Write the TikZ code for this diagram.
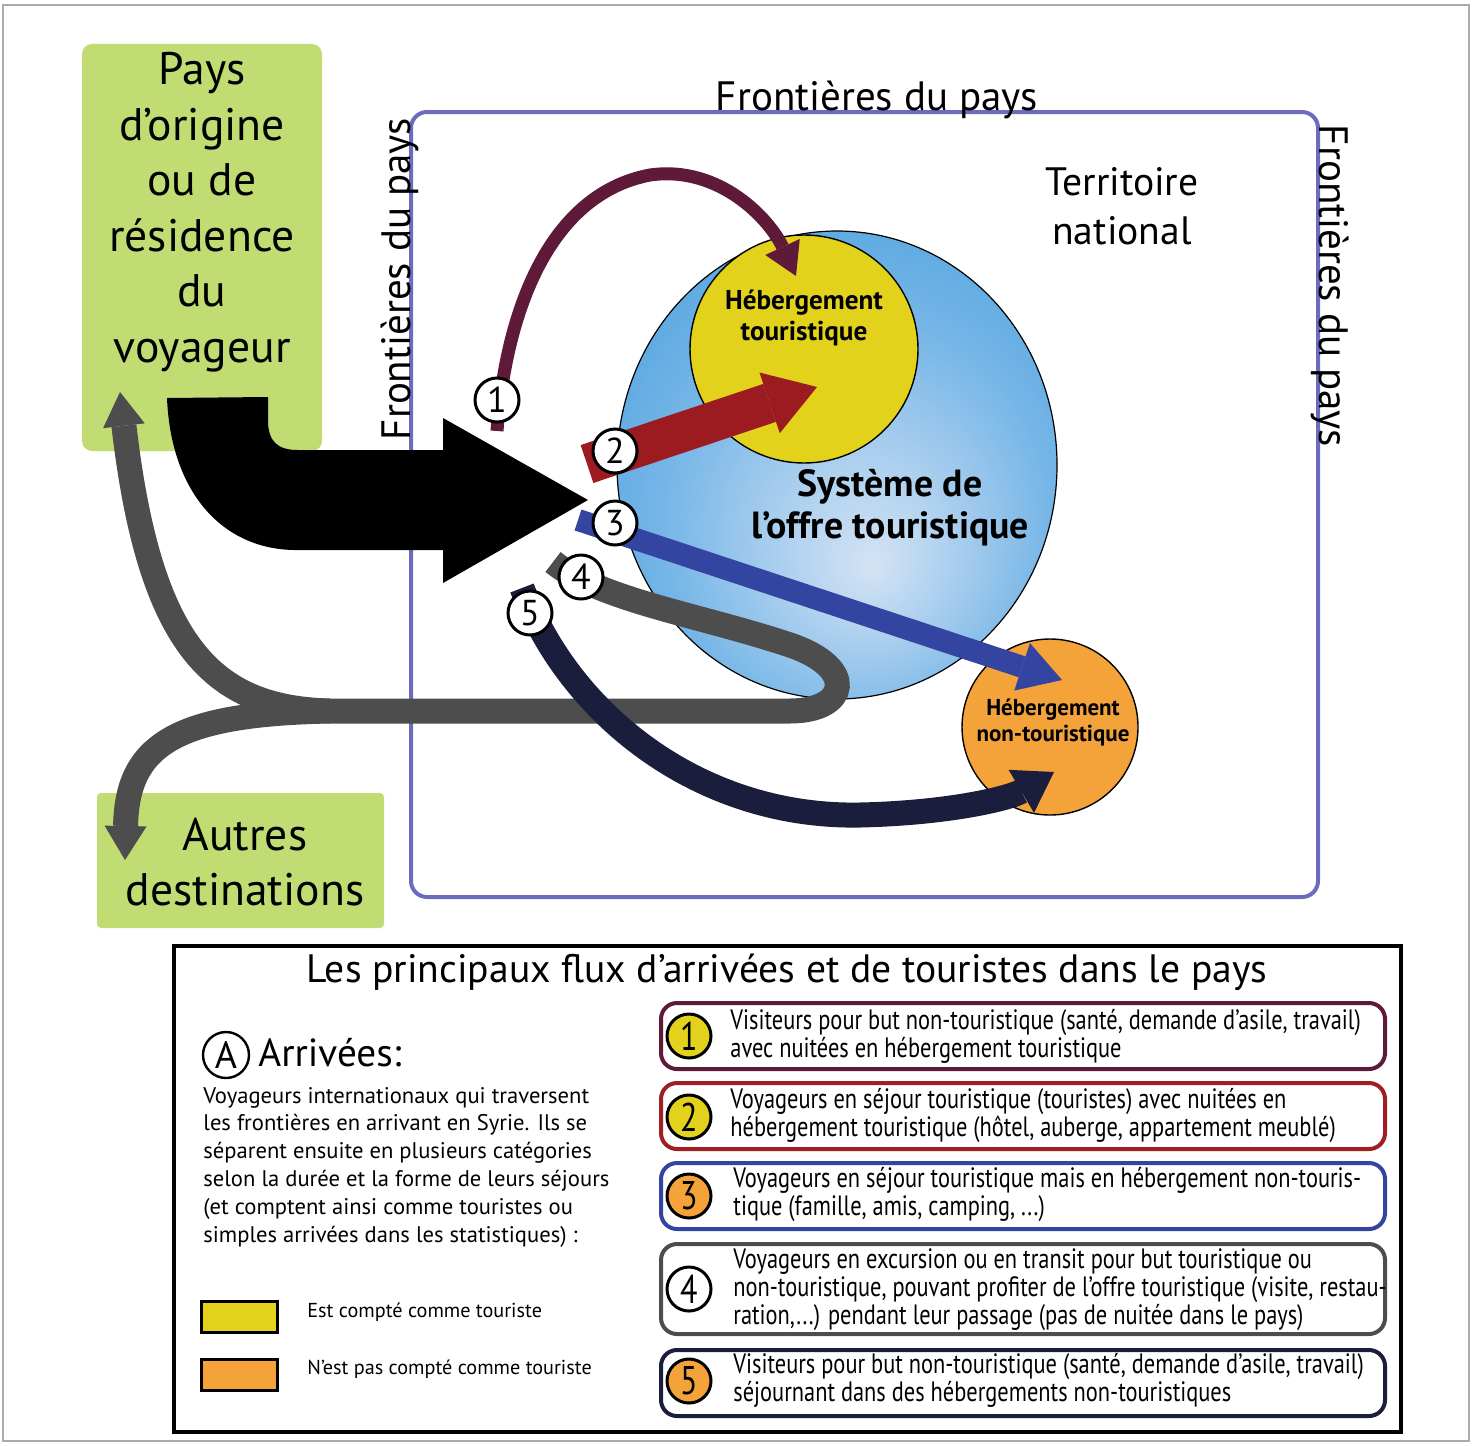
\documentclass[tikz,border=0pt]{standalone}
\usepackage{fontspec}
\setmainfont{PT Sans}
\newfontfamily\condf[FakeStretch=0.8]{PT Sans}
\usetikzlibrary{arrows.meta,shapes.geometric}
\definecolor{greenbx}{RGB}{193,220,114}
\definecolor{bordercol}{RGB}{108,108,190}
\definecolor{maroonf}{RGB}{94,26,56}
\definecolor{redf}{RGB}{156,27,32}
\definecolor{redbox}{RGB}{160,30,38}
\definecolor{bluef}{RGB}{51,69,161}
\definecolor{grayf}{RGB}{78,77,78}
\definecolor{navyf}{RGB}{27,29,61}
\definecolor{yel}{RGB}{227,210,27}
\definecolor{ora}{RGB}{243,163,58}
\definecolor{framegray}{RGB}{170,170,170}
\definecolor{sysA}{RGB}{212,227,244}
\definecolor{sysB}{RGB}{175,209,239}
\definecolor{sysC}{RGB}{118,182,231}
\definecolor{sysD}{RGB}{82,164,223}
\pgfdeclareradialshading{sysshade}{\pgfpoint{4bp}{-11bp}}{color(0bp)=(sysA); color(9bp)=(sysB); color(22bp)=(sysC); color(34bp)=(sysD); color(50bp)=(sysD)}
\tikzset{
  greenbox/.style={fill=greenbx, inner sep=0pt},
  bigtext/.style={font=\fontsize{22.8}{27.75}\selectfont, align=center, inner sep=0pt},
  fronttext/.style={font=\fontsize{20.5}{24}\selectfont, inner sep=0pt},
  badge/.style={circle, draw=black, line width=1.5pt, fill=white, minimum size=22pt, inner sep=0pt, font=\fontsize{18}{18}\selectfont},
  lbadge/.style={badge, font=\condf\fontsize{20}{20}\selectfont},
  itembox/.style={draw, line width=2pt, rounded corners=8pt, minimum width=362pt, inner sep=0pt},
  itemtext/.style={font=\condf\fontsize{14}{14}\selectfont, align=left, anchor=west, inner sep=0pt},
  flowgray/.style={draw=grayf, line width=12.5pt},
  tipgray/.style={-{Triangle[width=21pt,length=17pt,line width=0pt]}},
}
\begin{document}
\begin{tikzpicture}[x=0.5pt,y=-0.5pt]
\useasboundingbox (0,0) rectangle (1475,1445);
\draw[framegray, line width=0.6pt] (3,5) rectangle (1469,1441);

% green boxes
\node[greenbox, minimum width=120pt, minimum height=203.5pt, rounded corners=5pt] (origin) at (202,247.5) {};
\node[bigtext] (origintext) at (202,212) {Pays\\d’origine\\ou de\\résidence\\du\\voyageur};
\node[greenbox, minimum width=143.5pt, minimum height=67.5pt, rounded corners=2pt] (autres) at (240.5,860.5) {};
\node[bigtext] (autrestext) at (245,862) {Autres\\destinations};

% country border
\node[draw=bordercol, line width=2pt, rounded corners=8pt, minimum width=453.5pt, minimum height=392.5pt, inner sep=0pt] (territoire) at (864.5,504.5) {};

% system of supply
\node[ellipse, draw=black, line width=0.6pt, shading=sysshade, minimum width=220pt, minimum height=234pt, inner sep=0pt] (sys) at (837,465) {};
\node[circle, draw=black, line width=0.7pt, fill=yel, minimum size=114pt, inner sep=0pt] (hebt) at (804,349) {};
\node[circle, draw=black, line width=0.7pt, fill=ora, minimum size=88pt, inner sep=0pt] (hebn) at (1050,727) {};
\node[font=\bfseries\fontsize{13.6}{15.5}\selectfont, align=center, inner sep=0pt] (hebttext) at (804,318) {Hébergement\\touristique};
\node[font=\bfseries\fontsize{11.5}{13}\selectfont, align=center, inner sep=0pt] (hebntext) at (1053,723) {Hébergement\\non-touristique};
\node[font=\bfseries\fontsize{18.9}{21}\selectfont, align=center, inner sep=0pt] (systext) at (890,508) {Système de\\l’offre touristique};

% big black arrow
\coordinate (bigtip) at (588,500);
\fill[black] (167,398) -- (268,397) -- (268,420) .. controls (268,442) and (278,450) .. (298,450) -- (443,450) -- (443,418) -- (bigtip) -- (443,583) -- (443,550) -- (298,550) .. controls (225,551) and (171,495) .. (167,398) -- cycle;

% border labels
\node[fronttext] (ftop) at (877,100) {Frontières du pays};
\node[fronttext, rotate=90] (fleft) at (400,279) {Frontières du pays};
\node[fronttext, rotate=-90] (fright) at (1330,286) {Frontières du pays};
\node[font=\fontsize{19.8}{24.5}\selectfont, align=center, inner sep=0pt] (terr) at (1122,206) {Territoire\\national};

% flow 4 (gray)
\coordinate (g4) at (553,562);
\coordinate (gjunc) at (330,711);
\coordinate (gup) at (120,392);
\coordinate (gdown) at (125,860);
\draw[flowgray, tipgray] (g4) .. controls (600,600) and (700,615) .. (790,645) .. controls (858,668) and (848,711) .. (790,711) -- (gjunc) .. controls (215,708) and (150,650) .. (gup);
\draw[flowgray, tipgray] (gjunc) .. controls (175,714) and (127,745) .. (gdown);

% flow 5 (navy)
\coordinate (f5s) at (522,588);
\coordinate (f5e) at (1054,772);
\draw[navyf, line width=12.5pt, -{Triangle[width=25pt,length=19pt,line width=0pt]}] (f5s) .. controls (570,715) and (700,818) .. (860,815) .. controls (950,813) and (1010,798) .. (f5e);

% flow 1 (maroon)
\coordinate (f1s) at (497,431);
\coordinate (f1e) at (796,276);
\draw[maroonf, line width=6.5pt, -{Triangle[width=19pt,length=16pt,line width=0pt]}] (f1s) .. controls (505,320) and (545,195) .. (650,175) .. controls (720,165) and (770,220) .. (f1e);

% flow 2 (red)
\coordinate (f2s) at (587,464);
\coordinate (f2e) at (817,387);
\draw[redf, line width=20pt, -{Triangle[width=32pt,length=25pt,line width=0pt]}] (f2s) -- (f2e);

% flow 3 (blue)
\coordinate (f3s) at (578,520);
\coordinate (f3e) at (1062,680);
\draw[bluef, line width=11pt, -{Triangle[width=25pt,length=21pt,line width=0pt]}] (f3s) -- (f3e);

% badges
\node[badge] (b1) at (497,400) {1};
\node[badge] (b2) at (615,451) {2};
\node[badge] (b3) at (615,523) {3};
\node[badge] (b4) at (581,577) {4};
\node[badge] (b5) at (530,613) {5};

% legend
\node[draw=black, line width=2pt, minimum width=613.5pt, minimum height=243pt, inner sep=0pt] (legend) at (787.5,1189) {};
\node[font=\fontsize{19.8}{22}\selectfont, inner sep=0pt] (ltitle) at (787,972) {Les principaux flux d’arrivées et de touristes dans le pays};
\node[circle, draw=black, line width=1.2pt, minimum size=23pt, inner sep=0pt, font=\fontsize{19}{19}\selectfont] (acirc) at (226,1055) {A};
\node[anchor=west, font=\fontsize{19.6}{20}\selectfont, inner sep=0pt] (arr) at (258,1053) {Arrivées:};
\node[anchor=west, align=left, font=\fontsize{11.3}{13.9}\selectfont, inner sep=0pt] (para) at (203,1167) {Voyageurs internationaux qui traversent\\les frontières en arrivant en Syrie. Ils se\\séparent ensuite en plusieurs catégories\\selon la durée et la forme de leurs séjours\\(et comptent ainsi comme touristes ou\\simples arrivées dans les statistiques) :};
\node[draw=black, line width=1.5pt, fill=yel, minimum width=38pt, minimum height=15.5pt, inner sep=0pt] (swy) at (239,1316.5) {};
\node[anchor=west, font=\fontsize{10.1}{12}\selectfont, inner sep=0pt] (swyt) at (307,1312) {Est compté comme touriste};
\node[draw=black, line width=1.5pt, fill=ora, minimum width=38pt, minimum height=15.5pt, inner sep=0pt] (swo) at (239,1374.5) {};
\node[anchor=west, font=\fontsize{10.1}{12}\selectfont, inner sep=0pt] (swot) at (307,1369) {N’est pas compté comme touriste};

\node[itembox, draw=maroonf, minimum height=33pt] (it1) at (1023,1036) {};
\node[itembox, draw=redbox, minimum height=33pt] (it2) at (1023,1116) {};
\node[itembox, draw=bluef, minimum height=33pt] (it3) at (1023,1196) {};
\node[itembox, draw=grayf, minimum height=45pt] (it4) at (1023,1289) {};
\node[itembox, draw=navyf, minimum height=33pt] (it5) at (1023,1383) {};

\node[lbadge, fill=yel] (lb1) at (689,1036) {1};
\node[lbadge, fill=yel] (lb2) at (689,1117) {2};
\node[lbadge, fill=ora] (lb3) at (689,1196) {3};
\node[lbadge, fill=white] (lb4) at (689,1289) {4};
\node[lbadge, fill=ora] (lb5) at (689,1381) {5};

\node[itemtext] (t1) at (730,1036) {Visiteurs pour but non-touristique (santé, demande d’asile, travail)\\avec nuitées en hébergement touristique};
\node[itemtext] (t2) at (730,1115) {Voyageurs en séjour touristique (touristes) avec nuitées en\\hébergement touristique (hôtel, auberge, appartement meublé)};
\node[itemtext] (t3) at (733,1194) {Voyageurs en séjour touristique mais en hébergement non-touris-\\tique (famille, amis, camping, ...)};
\node[itemtext] (t4) at (733,1290) {Voyageurs en excursion ou en transit pour but touristique ou\\non-touristique, pouvant profiter de l’offre touristique (visite, restau-\\ration,...) pendant leur passage (pas de nuitée dans le pays)};
\node[itemtext] (t5) at (733,1380) {Visiteurs pour but non-touristique (santé, demande d’asile, travail)\\séjournant dans des hébergements non-touristiques};
\end{tikzpicture}
\end{document}
